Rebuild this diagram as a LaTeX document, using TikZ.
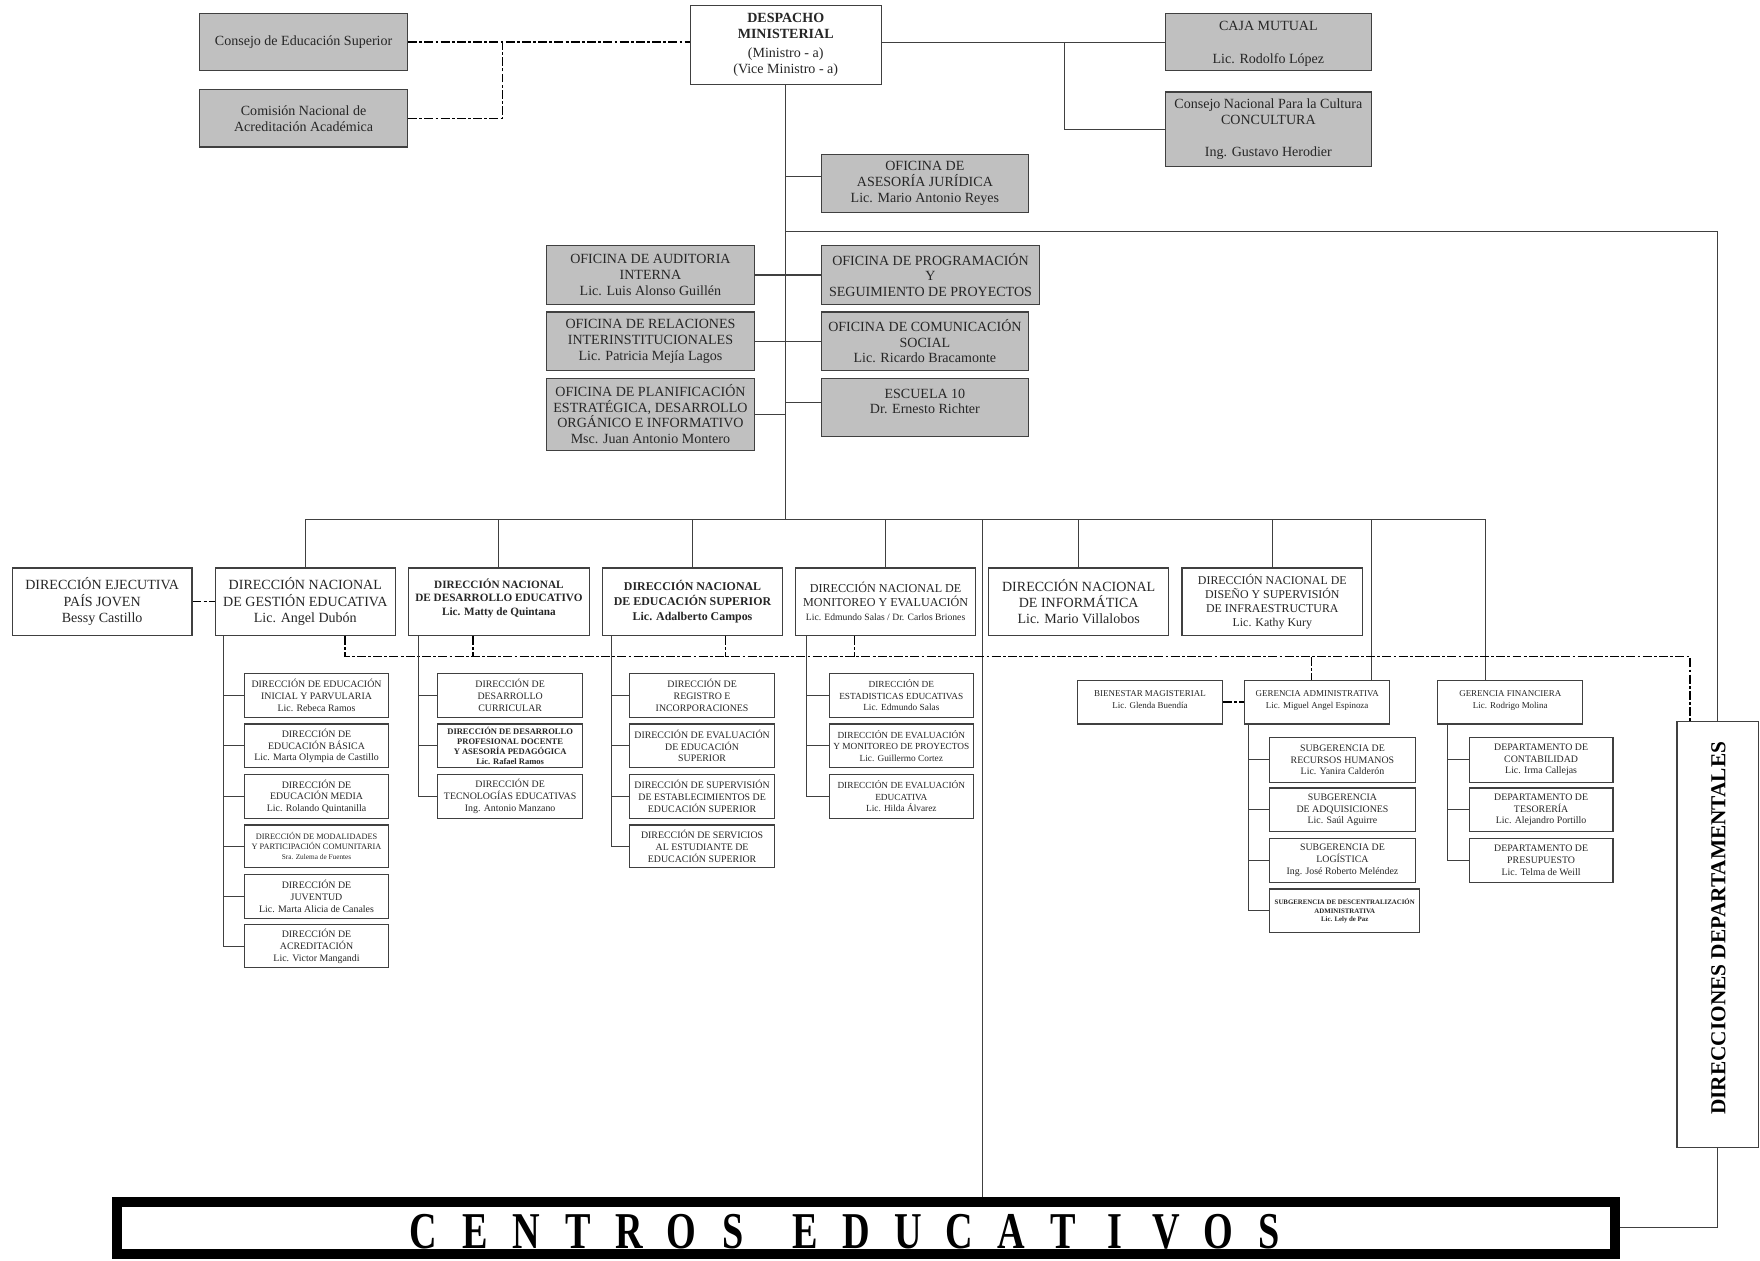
\documentclass[tikz,border=0pt]{standalone}
\usepackage{fontspec}
\setmainfont{Liberation Serif}
\usepackage{graphicx}
\usetikzlibrary{calc}
\definecolor{boxgray}{RGB}{192,192,192}
\newcommand\fUp{\fontsize{12.5}{14}\selectfont}
\newcommand\fRow{\fontsize{12.5}{14.5}\selectfont}
\newcommand\fSub{\fontsize{8.8}{10.4}\selectfont}
\newcommand\fMon{\fontsize{8.3}{10.2}\selectfont}
\newcommand\fGer{\fontsize{8}{10.5}\selectfont}
\newcommand\orgbox[7]{\node[#6, minimum width={(#4-#2)*1pt}, minimum height={(#5-#3)*1pt}] (#1) at ({(#2+#4)/2},{(#3+#5)/2}) {#7};}
\newcommand\cltr[1]{\makebox[46pt]{\scalebox{0.74}[1]{#1}}}
\tikzset{
  ob/.style={draw=black!75, line width=1pt, fill=boxgray, inner sep=0pt, align=center, text=black!85},
  wb/.style={draw=black!75, line width=1pt, fill=white, inner sep=0pt, align=center, text=black!85},
  conn/.style={draw=black!75, line width=0.9pt},
  dd/.style={draw=black, line width=1.3pt, dash pattern=on 8pt off 2pt on 2.5pt off 2pt},
}
\begin{document}
\begin{tikzpicture}[x=1pt,y=-1pt]
\fill[white] (0,0) rectangle (1568,1123);
\useasboundingbox (0,0) rectangle (1568,1123);

% ---------- top ----------
\orgbox{ces}{178}{12}{363}{63}{ob,font=\fUp}{Consejo de Educación Superior}
\orgbox{cnaa}{178}{80}{363}{131}{ob,font=\fUp}{Comisión Nacional de\\Acreditación Académica}
\orgbox{desp}{615}{5}{785}{75}{wb,font=\fUp}{\textbf{DESPACHO}\\\textbf{MINISTERIAL}\\[3pt](Ministro - a)\\(Vice Ministro - a)}
\orgbox{caja}{1038}{12}{1222}{63}{ob,font=\fUp}{\phantom{x}\\[-8pt]CAJA MUTUAL\\[15pt]Lic. Rodolfo López}
\orgbox{concult}{1038}{82}{1222}{148}{ob,font=\fUp}{Consejo Nacional Para la Cultura\\CONCULTURA\\[15pt]Ing. Gustavo Herodier}

\orgbox{asesoria}{732}{138}{916}{189}{ob,font=\fUp}{OFICINA DE\\ASESORÍA JURÍDICA\\Lic. Mario Antonio Reyes}
\orgbox{audit}{487}{219}{672}{271}{ob,font=\fUp}{OFICINA DE AUDITORIA\\INTERNA\\Lic. Luis Alonso Guillén}
\orgbox{rel}{487}{278}{672}{330}{ob,font=\fUp}{OFICINA DE RELACIONES\\INTERINSTITUCIONALES\\Lic. Patricia Mejía Lagos}
\orgbox{plan}{487}{337}{672}{401}{ob,font=\fUp}{OFICINA DE PLANIFICACIÓN\\ESTRATÉGICA, DESARROLLO\\ORGÁNICO E INFORMATIVO\\Msc. Juan Antonio Montero}
\orgbox{prog}{732}{219}{926}{271}{ob,font=\fUp}{OFICINA DE PROGRAMACIÓN\\Y\\SEGUIMIENTO DE PROYECTOS}
\orgbox{com}{732}{278}{916}{330}{ob,font=\fUp}{OFICINA DE COMUNICACIÓN\\SOCIAL\\Lic. Ricardo Bracamonte}
\orgbox{esc}{732}{337}{916}{389}{ob,font=\fUp}{ESCUELA 10\\Dr. Ernesto Richter\\[-3pt]\phantom{X}}

% ---------- row ----------
\orgbox{pj}{11}{506}{171}{566}{wb,font=\fRow}{DIRECCIÓN EJECUTIVA\\PAÍS JOVEN\\Bessy Castillo}
\orgbox{gestion}{192}{506}{352}{566}{wb,font=\fRow}{DIRECCIÓN NACIONAL\\DE GESTIÓN EDUCATIVA\\Lic. Angel Dubón}
\orgbox{desed}{364}{506}{525}{566}{wb,font=\fontsize{10}{12}\selectfont\bfseries}{DIRECCIÓN NACIONAL\\DE DESARROLLO EDUCATIVO\\Lic. Matty de Quintana\\[-4pt]\phantom{X}}
\orgbox{edsup}{537}{506}{697}{566}{wb,font=\fontsize{10.6}{13}\selectfont\bfseries}{DIRECCIÓN NACIONAL\\DE EDUCACIÓN SUPERIOR\\Lic. Adalberto Campos}
\orgbox{monit}{709}{506}{869}{566}{wb,font=\fontsize{10.8}{12.5}\selectfont}{DIRECCIÓN NACIONAL DE\\MONITOREO Y EVALUACIÓN\\{\fontsize{8.6}{10}\selectfont Lic. Edmundo Salas / Dr. Carlos Briones}}
\orgbox{info}{881}{506}{1041}{566}{wb,font=\fRow}{DIRECCIÓN NACIONAL\\DE INFORMÁTICA\\Lic. Mario Villalobos}
\orgbox{diseno}{1053}{506}{1214}{566}{wb,font=\fontsize{10.6}{12.3}\selectfont}{DIRECCIÓN NACIONAL DE\\DISEÑO Y SUPERVISIÓN\\DE INFRAESTRUCTURA\\Lic. Kathy Kury}

% ---------- gestion subs ----------
\orgbox{inicial}{218}{600}{346}{639}{wb,font=\fSub}{DIRECCIÓN DE EDUCACIÓN\\INICIAL Y PARVULARIA\\Lic. Rebeca Ramos}
\orgbox{basica}{218}{645}{346}{684}{wb,font=\fSub}{DIRECCIÓN DE\\EDUCACIÓN BÁSICA\\Lic. Marta Olympia de Castillo}
\orgbox{media}{218}{690}{346}{729}{wb,font=\fSub}{DIRECCIÓN DE\\EDUCACIÓN MEDIA\\Lic. Rolando Quintanilla}
\orgbox{modal}{218}{735}{346}{773}{wb,font=\fontsize{7.4}{9}\selectfont}{DIRECCIÓN DE MODALIDADES\\Y PARTICIPACIÓN COMUNITARIA\\{\fontsize{6.5}{8}\selectfont Sra. Zulema de Fuentes}}
\orgbox{juv}{218}{779}{346}{818}{wb,font=\fSub}{DIRECCIÓN DE\\JUVENTUD\\Lic. Marta Alicia de Canales}
\orgbox{acred}{218}{824}{346}{862}{wb,font=\fSub}{DIRECCIÓN DE\\ACREDITACIÓN\\Lic. Victor Mangandi}

% ---------- desarrollo subs ----------
\orgbox{curr}{390}{600}{519}{639}{wb,font=\fSub}{DIRECCIÓN DE\\DESARROLLO\\CURRICULAR}
\orgbox{prof}{390}{645}{519}{684}{wb,font=\fontsize{7.6}{8.8}\selectfont\bfseries}{DIRECCIÓN DE DESARROLLO\\PROFESIONAL DOCENTE\\Y ASESORÍA PEDAGÓGICA\\Lic. Rafael Ramos}
\orgbox{tec}{390}{690}{519}{729}{wb,font=\fSub}{DIRECCIÓN DE\\TECNOLOGÍAS EDUCATIVAS\\Ing. Antonio Manzano}

% ---------- educacion superior subs ----------
\orgbox{reg}{561}{600}{690}{639}{wb,font=\fSub}{DIRECCIÓN DE\\REGISTRO E\\INCORPORACIONES}
\orgbox{evs}{561}{645}{690}{684}{wb,font=\fSub}{DIRECCIÓN DE EVALUACIÓN\\DE EDUCACIÓN\\SUPERIOR}
\orgbox{supv}{561}{690}{690}{729}{wb,font=\fSub}{DIRECCIÓN DE SUPERVISIÓN\\DE ESTABLECIMIENTOS DE\\EDUCACIÓN SUPERIOR}
\orgbox{serv}{561}{735}{690}{773}{wb,font=\fSub}{DIRECCIÓN DE SERVICIOS\\AL ESTUDIANTE DE\\EDUCACIÓN SUPERIOR}

% ---------- monitoreo subs ----------
\orgbox{est}{739}{600}{867}{639}{wb,font=\fMon}{DIRECCIÓN DE\\ESTADISTICAS EDUCATIVAS\\Lic. Edmundo Salas}
\orgbox{evp}{739}{645}{867}{684}{wb,font=\fMon}{DIRECCIÓN DE EVALUACIÓN\\Y MONITOREO DE PROYECTOS\\Lic. Guillermo Cortez}
\orgbox{eve}{739}{690}{867}{729}{wb,font=\fMon}{DIRECCIÓN DE EVALUACIÓN\\EDUCATIVA\\Lic. Hilda Álvarez}

% ---------- gerencias ----------
\orgbox{bien}{960}{606}{1089}{645}{wb,font=\fGer}{BIENESTAR MAGISTERIAL\\Lic. Glenda Buendía\\[-6pt]\phantom{X}}
\orgbox{geradm}{1109}{606}{1238}{645}{wb,font=\fGer}{GERENCIA ADMINISTRATIVA\\Lic. Miguel Angel Espinoza\\[-6pt]\phantom{X}}
\orgbox{gerfin}{1281}{606}{1410}{645}{wb,font=\fGer}{GERENCIA FINANCIERA\\Lic. Rodrigo Molina\\[-6pt]\phantom{X}}

\orgbox{rrhh}{1131}{657}{1261}{697}{wb,font=\fSub}{SUBGERENCIA DE\\RECURSOS HUMANOS\\Lic. Yanira Calderón}
\orgbox{adq}{1131}{702}{1261}{741}{wb,font=\fSub}{SUBGERENCIA\\DE ADQUISICIONES\\Lic. Saúl Aguirre}
\orgbox{logi}{1131}{747}{1261}{786}{wb,font=\fSub}{SUBGERENCIA DE\\LOGÍSTICA\\Ing. José Roberto Meléndez}
\orgbox{desc}{1131}{792}{1265}{831}{wb,font=\fontsize{6.1}{7.5}\selectfont\bfseries}{SUBGERENCIA DE DESCENTRALIZACIÓN\\ADMINISTRATIVA\\Lic. Lely de Paz}

\orgbox{cont}{1309}{657}{1437}{697}{wb,font=\fSub}{DEPARTAMENTO DE\\CONTABILIDAD\\Lic. Irma Callejas}
\orgbox{tes}{1309}{702}{1437}{741}{wb,font=\fSub}{DEPARTAMENTO DE\\TESORERÍA\\Lic. Alejandro Portillo}
\orgbox{pres}{1309}{747}{1437}{786}{wb,font=\fSub}{DEPARTAMENTO DE\\PRESUPUESTO\\Lic. Telma de Weill}

% ---------- bottom / side ----------
\orgbox{dept}{1494}{643}{1567}{1022}{wb}{}
\node[text=black, font=\fontsize{19}{19}\selectfont\bfseries, rotate=90, inner sep=0pt] (deptT) at (1531,827) {DIRECCIONES DEPARTAMENTALES};
\node[draw=black, line width=9pt, fill=white, inner sep=0pt, minimum width=1334pt, minimum height=47pt] (centros) at (771.5,1094) {};
\node[text=black, font=\fontsize{46}{46}\selectfont\bfseries, inner sep=0pt] (centrosT) at (754,1097)
  {\cltr{C}\cltr{E}\cltr{N}\cltr{T}\cltr{R}\cltr{O}\cltr{S}\hspace{18pt}\cltr{E}\cltr{D}\cltr{U}\cltr{C}\cltr{A}\cltr{T}\cltr{I}\cltr{V}\cltr{O}\cltr{S}};

% ---------- connectors: top ----------
\draw[dd] (ces.east) -- (ces.east -| desp.west);
\draw[dd] (cnaa.east) -| ($(ces.east)+(84,0)$);
\draw[conn] (caja.west -| desp.east) -- (caja.west);
\coordinate (cajab) at ($(caja.west)+(-89,0)$);
\draw[conn] (cajab) |- (concult.west);

\coordinate (busC) at (700,463);
\draw[conn] (desp.south) -- (busC);
\draw[conn] ($(asesoria.north west)+(0,20)$) -- ++(-32,0);
\draw[conn] (audit.east) -- (audit.east -| prog.west);
\draw[conn] (rel.east) -- (rel.east -| com.west);
\draw[conn] (plan.east) -- ++(28,0);
\draw[conn] ($(esc.north west)+(0,22)$) -- ++(-32,0);

\coordinate (s206) at (700,206);
\draw[conn] (s206) -| (dept.north);
\draw[conn] (dept.south) |- (centros.east);

% ---------- connectors: bus ----------
\coordinate (gadrop) at ($(geradm.north east)+(-17,0)$);
\coordinate (gfdrop) at ($(gerfin.north)+(-22,0)$);
\draw[conn] (gestion.north |- busC) -- (gfdrop |- busC);
\foreach \n in {gestion,desed,edsup,monit,info,diseno}
  \draw[conn] (\n.north) -- (\n.north |- busC);
\draw[conn] (gadrop |- busC) -- (gadrop);
\draw[conn] (gfdrop |- busC) -- (gfdrop);
\coordinate (cdrop) at (875,463);
\draw[conn] (cdrop) -- (cdrop |- centros.north);

% ---------- dashed relations ----------
\draw[dd] (pj.east) -- (gestion.west);
\draw[dd] (bien.east) -- (geradm.west);
\coordinate (ddY) at (0,585);
\coordinate (g1) at ($(gestion.south west)+(116,0)$);
\coordinate (dptd) at ($(dept.north west)+(12,0)$);
\draw[dd] (g1) -- (g1 |- ddY) -- (dptd |- ddY) -- (dptd);
\coordinate (d2) at ($(desed.south west)+(58,0)$);
\draw[dd] (d2) -- (d2 |- ddY);
\coordinate (d3) at ($(edsup.south west)+(110,0)$);
\draw[dd] (d3) -- (d3 |- ddY);
\coordinate (d4) at ($(monit.south west)+(53,0)$);
\draw[dd] (d4) -- (d4 |- ddY);
\coordinate (d5) at ($(geradm.north west)+(60,0)$);
\draw[dd] (d5 |- ddY) -- (d5);

% ---------- sub spines ----------
\draw[conn] ($(gestion.south west)+(8,0)$) |- (acred.west);
\foreach \n in {inicial,basica,media,modal,juv} \draw[conn] (\n.west) -- ++(-18,0);
\draw[conn] ($(desed.south west)+(9,0)$) |- (tec.west);
\foreach \n in {curr,prof} \draw[conn] (\n.west) -- ++(-17,0);
\draw[conn] ($(edsup.south west)+(8,0)$) |- (serv.west);
\foreach \n in {reg,evs,supv} \draw[conn] (\n.west) -- ++(-16,0);
\draw[conn] ($(monit.south west)+(10,0)$) |- (eve.west);
\foreach \n in {est,evp} \draw[conn] (\n.west) -- ++(-20,0);
\draw[conn] ($(geradm.south west)+(4,0)$) |- (desc.west);
\foreach \n in {rrhh,adq,logi} \draw[conn] (\n.west) -- ++(-18,0);
\draw[conn] ($(gerfin.south west)+(9,0)$) |- (pres.west);
\foreach \n in {cont,tes} \draw[conn] (\n.west) -- ++(-19,0);
\end{tikzpicture}
\end{document}
